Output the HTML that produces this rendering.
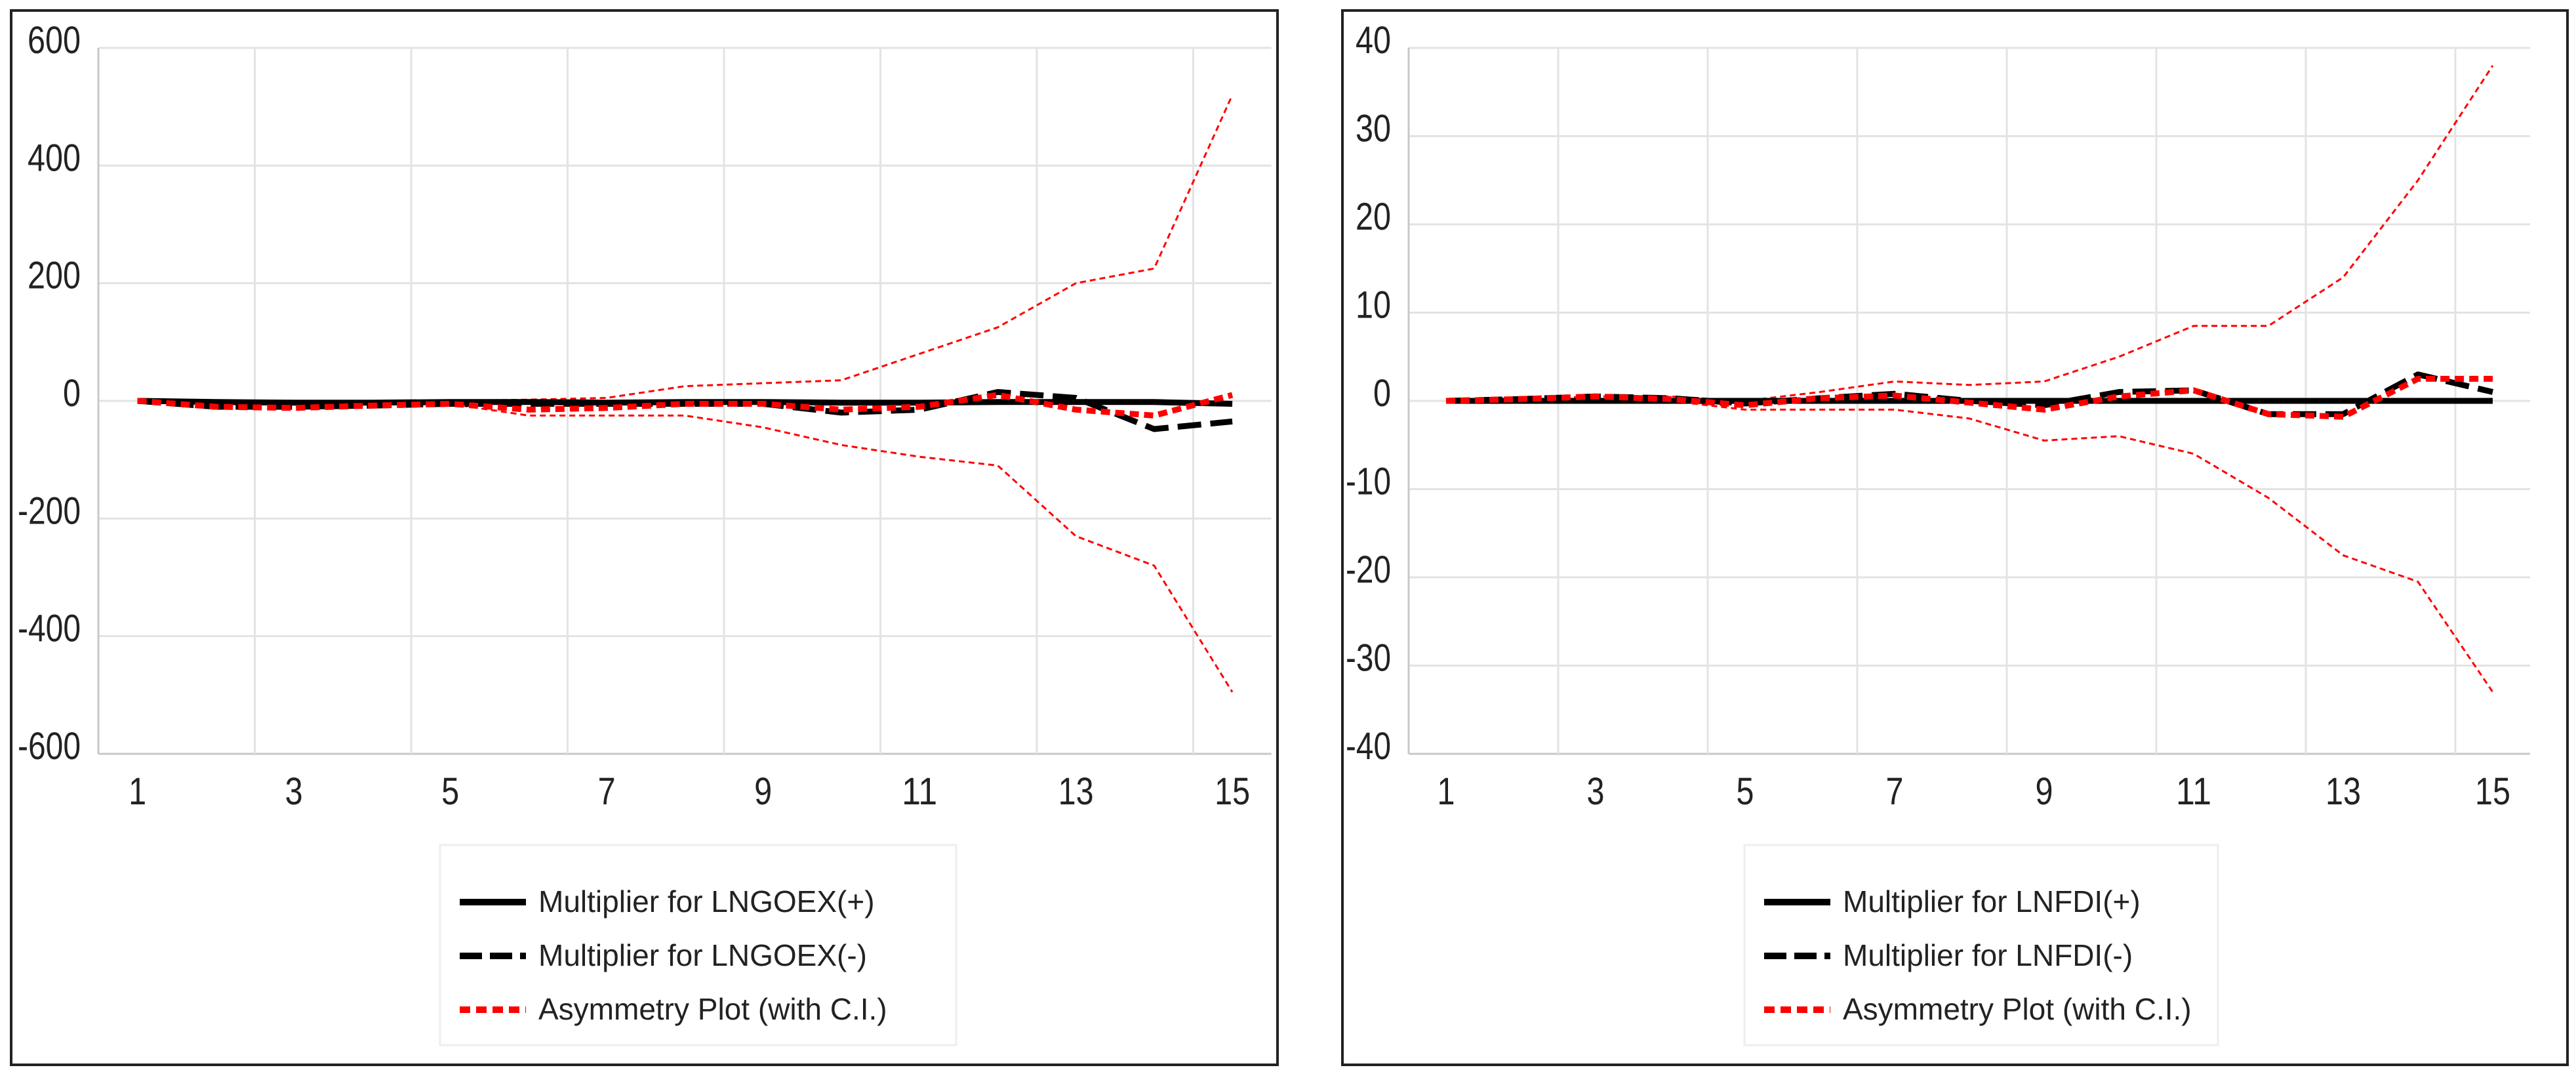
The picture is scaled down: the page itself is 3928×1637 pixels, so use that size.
<!DOCTYPE html>
<html><head><meta charset="utf-8"><style>
html,body{margin:0;padding:0;background:#fff;width:3928px;height:1637px;overflow:hidden}
svg{display:block}
text{font-family:"Liberation Sans Narrow","Liberation Sans",sans-serif;fill:#222}
</style></head><body>
<svg id="s" width="3928" height="1637" viewBox="0 0 3928 1637"></svg>
<script>
const cats = [1,2,3,4,5,6,7,8,9,10,11,12,13,14,15];
const xTickLabels = ["1","3","5","7","9","11","13","15"];
const leftYTicks = [600,400,200,0,-200,-400,-600];
const leftPos = [0,-2,-3,-3,-2,-2,-3,-2,-2,-3,-3,-2,-2,-2,-5];
const leftNeg = [0,-10,-10,-8,-5,-5,-5,-5,-5,-20,-15,15,5,-48,-35];
const leftAsym = [0,-10,-12,-8,-5,-15,-12,-5,-5,-15,-10,10,-15,-25,10];
const leftUpper = [0,0,0,0,0,2,5,25,30,35,80,125,200,225,520];
const leftLower = [0,0,0,0,-5,-25,-25,-25,-45,-75,-95,-110,-230,-280,-495];
const rightYTicks = [40,30,20,10,0,-10,-20,-30,-40];
const rightPos = [0,0,0,0,0,0,0,0,0,0,0,0,0,0,0];
const rightNeg = [0,0.2,0.5,0.3,-0.3,0.3,0.8,0,-0.5,1,1.2,-1.5,-1.5,3,1];
const rightAsym = [0,0.2,0.5,0.2,-0.5,0.3,0.6,-0.2,-1,0.5,1.2,-1.5,-1.8,2.5,2.5];
const rightUpper = [0,0.2,0.5,0.5,0,1,2.2,1.8,2.2,5,8.5,8.5,14,25,38];
const rightLower = [0,0,0,0,-1,-1,-1,-2,-4.5,-4,-6,-11,-17.5,-20.5,-33];

const NS="http://www.w3.org/2000/svg";
const svg=document.getElementById('s');
function mk(tag,attrs,parent){const e=document.createElementNS(NS,tag);for(const k in attrs)e.setAttribute(k,attrs[k]);(parent||svg).appendChild(e);return e;}
function tlen(s){let n=0;for(const ch of s)n+=(ch==='-')?15:27;return n;}

function chart(cfg){
  const g=mk('g',{});
  
  
  const frame=mk('rect',{x:cfg.bx,y:16,width:cfg.bw,height:1607,fill:'#fff',stroke:'#222','stroke-width':4},g);
  
  
  const ymax=cfg.yt[0], ymin=cfg.yt[cfg.yt.length-1];
  const top=73,bot=1149;
  const Y=v=>top+(ymax-v)/(ymax-ymin)*(bot-top);
  const X=c=>cfg.ax+(c-0.5)*cfg.step;
  cfg.yt.forEach(t=>{
    const l=mk('line',{x1:cfg.ax,x2:cfg.ax+15*cfg.step,y1:Y(t),y2:Y(t),stroke:t===ymin?'#c8c8c8':'#e3e3e3','stroke-width':3},g);
    
    
    const s=String(t);
    const tx=mk('text',{x:cfg.lx,y:Y(t)+8,'text-anchor':'end','font-size':58,textLength:tlen(s),lengthAdjust:'spacingAndGlyphs'},g);
    tx.textContent=s;
    
    
  });
  for(let i=0;i<8;i++){
    const c=0.5+2*i;
    const l=mk('line',{x1:X(c),x2:X(c),y1:top,y2:bot,stroke:i===0?'#c8c8c8':'#e3e3e3','stroke-width':3},g);
    
    
  }
  xTickLabels.forEach(s=>{
    const tx=mk('text',{x:X(+s),y:1226,'text-anchor':'middle','font-size':58,textLength:tlen(s),lengthAdjust:'spacingAndGlyphs'},g);
    tx.textContent=s;
    
    
  });
  function series(vals,name,stroke,w,dash){
    const d=vals.map((v,i)=>(i?'L':'M')+X(cats[i]).toFixed(1)+','+Y(v).toFixed(1)).join(' ');
    const p=mk('path',{d:d,fill:'none',stroke:stroke,'stroke-width':w,'stroke-dasharray':dash||'none','stroke-linejoin':'round'},g);
    
    
  }
  series(cfg.upper,'ci-upper-line','#ff0000',3,'9 6');
  series(cfg.lower,'ci-lower-line','#ff0000',3,'9 6');
  series(cfg.pos,'multiplier-positive-line','#000',9);
  series(cfg.neg,'multiplier-negative-line','#000',9,'36 14');
  series(cfg.asym,'asymmetry-line','#ff0000',9,'14 8');
  const lg=mk('g',{},g);
  
  
  const lb=mk('rect',{x:cfg.lgx,y:1288,width:cfg.lgw,height:305,fill:'#fff',stroke:'#eee','stroke-width':3},lg);
  
  
  const items=[[cfg.l1,'#000','none'],[cfg.l2,'#000','34 12'],['Asymmetry Plot (with C.I.)','#ff0000','16 9']];
  items.forEach((it,i)=>{
    const yy=1375+i*82;
    const ln=mk('line',{x1:cfg.lgx+30,x2:cfg.lgx+131,y1:yy,y2:yy,stroke:it[1],'stroke-width':10,'stroke-dasharray':it[2]},lg);
    
    
    const t=mk('text',{x:cfg.lgx+150,y:yy+15,'font-size':46},lg);
    t.textContent=it[0];
    
    
  });
}
chart({name:'lngoex-chart',bx:17,bw:1931,ax:150,step:119.25,lx:123,yt:leftYTicks,
  pos:leftPos,neg:leftNeg,asym:leftAsym,upper:leftUpper,lower:leftLower,
  lgx:671,lgw:787,l1:'Multiplier for LNGOEX(+)',l2:'Multiplier for LNGOEX(-)'});
chart({name:'lnfdi-chart',bx:2047,bw:1868,ax:2148,step:114,lx:2121,yt:rightYTicks,
  pos:rightPos,neg:rightNeg,asym:rightAsym,upper:rightUpper,lower:rightLower,
  lgx:2660,lgw:722,l1:'Multiplier for LNFDI(+)',l2:'Multiplier for LNFDI(-)'});
</script>
</body></html>
